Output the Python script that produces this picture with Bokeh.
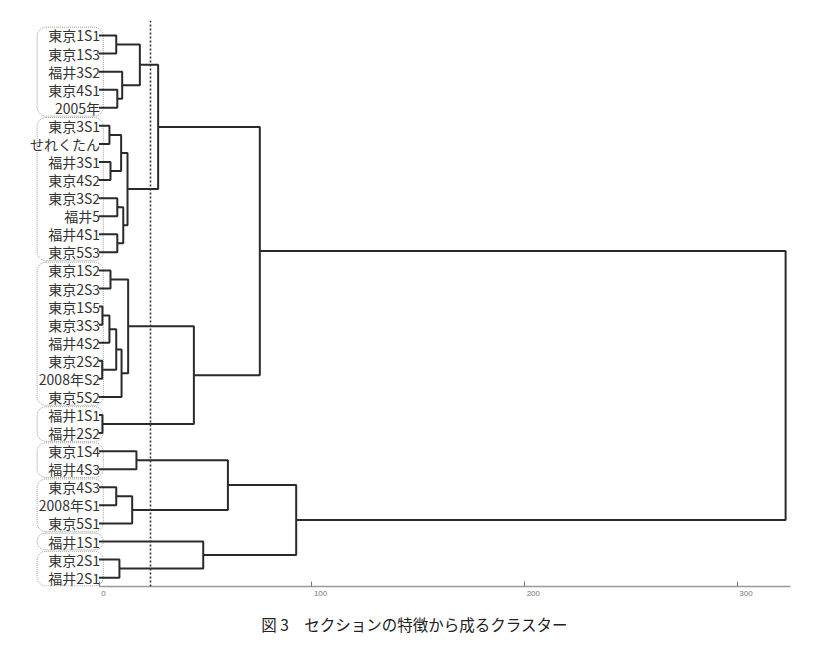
from bokeh.plotting import figure
from bokeh.models import Range1d, Span, Title, FixedTicker, CustomJSTickFormatter
from bokeh.core.properties import value
from bokeh.embed import file_html
from bokeh.resources import INLINE

# ---- data -------------------------------------------------------------
leaf_labels = ["東京1S1", "東京1S3", "福井3S2", "東京4S1", "2005年",
               "東京3S1", "せれくたん", "福井3S1", "東京4S2", "東京3S2", "福井5", "福井4S1", "東京5S3",
               "東京1S2", "東京2S3", "東京1S5", "東京3S3", "福井4S2", "東京2S2", "2008年S2", "東京5S2",
               "福井1S1", "福井2S2",
               "東京1S4", "福井4S3",
               "東京4S3", "2008年S1", "東京5S1",
               "福井1S1",
               "東京2S1", "福井2S1"]

# merges: node ids 0..30 are leaves, merge k creates node 31+k
merge_a = [0, 3, 2, 31, 5, 7, 35, 9, 11, 38, 37, 34, 13, 15, 44, 18, 45, 47, 43, 21, 49, 42,
           23, 25, 54, 53, 29, 28, 56, 52]
merge_b = [1, 4, 32, 33, 6, 8, 36, 10, 12, 39, 40, 41, 14, 16, 17, 19, 46, 20, 48, 22, 50, 51,
           24, 26, 27, 55, 30, 57, 58, 59]
merge_h = [8.1, 8.6, 10.9, 19.2, 4.9, 5.4, 10.4, 8.6, 8.6, 11.4, 13.4, 27.8, 5.4, 1.6, 4.9, 1.5,
           8.1, 10.6, 13.7, 1.6, 44.6, 75.6, 17.6, 8.1, 15.6, 60.6, 9.6, 49.0, 92.7, 322.8]

group_first = [0, 5, 13, 21, 23, 25, 28, 29]
group_last = [4, 12, 20, 22, 24, 27, 28, 30]

cut_height = 24.2
x_ticks = [0, 100, 200, 300]
caption = "図 3　セクションの特徴から成るクラスター"

# ---- dendrogram geometry ---------------------------------------------
n = len(leaf_labels)
node_x = [0.0] * n
node_y = [float(i) for i in range(n)]
xs, ys = [], []
for a, b, h in zip(merge_a, merge_b, merge_h):
    xs.append([node_x[a], h, h, node_x[b]])
    ys.append([node_y[a], node_y[a], node_y[b], node_y[b]])
    node_x.append(h)
    node_y.append((node_y[a] + node_y[b]) / 2.0)

JP = "Noto Sans CJK JP"

p = figure(frame_width=772, frame_height=566, output_backend="svg", toolbar_location=None,
           x_range=Range1d(-33.15, 329.8), y_range=Range1d(30.49, -0.83),
           min_border_left=28, min_border_right=12, min_border_top=20, min_border_bottom=70)
p.yaxis.visible = False
p.outline_line_color = None
p.xgrid.visible = False
p.ygrid.visible = False

# label group boxes
p.quad(left=-29.1, right=2.0,
       top=[f - 0.46 for f in group_first], bottom=[l + 0.46 for l in group_last],
       fill_color=None, line_color="#9a9a9a", line_width=1, line_dash="1 1",
       border_radius=9)

# cut line
p.add_layout(Span(location=cut_height, dimension="height", line_color="#333333",
                  line_width=1.6, line_dash="2 2"))

# dendrogram links
p.multi_line(xs=xs, ys=ys, line_color="#2a2a2a", line_width=2)

# leaf labels
p.text(x=[0] * n, y=list(range(n)), text=leaf_labels, text_align="right",
       text_baseline="middle", x_offset=1, text_font=value(JP),
       text_font_size="14px", text_color="#333333")

# axis
ax = p.xaxis[0]
ax.ticker = FixedTicker(ticks=x_ticks)
ax.bounds = (0, 325)
ax.formatter = CustomJSTickFormatter(code="return '\\u00a0\\u00a0'.repeat(String(tick).length + 1) + tick;")
ax.axis_line_color = "#9a9a9a"
ax.axis_line_width = 1.5
ax.major_tick_in = 5
ax.major_tick_out = 0
ax.major_tick_line_color = "#777777"
ax.minor_tick_line_color = None
ax.major_label_text_font_size = "8px"
ax.major_label_text_color = "#777777"
ax.major_label_standoff = 2

# caption
p.add_layout(Title(text=caption, align="center", text_font=JP, text_font_style="normal",
                   text_font_size="15.5px", text_color="#222222", standoff=20), "below")

open("out.html", "w").write(file_html(p, INLINE))
